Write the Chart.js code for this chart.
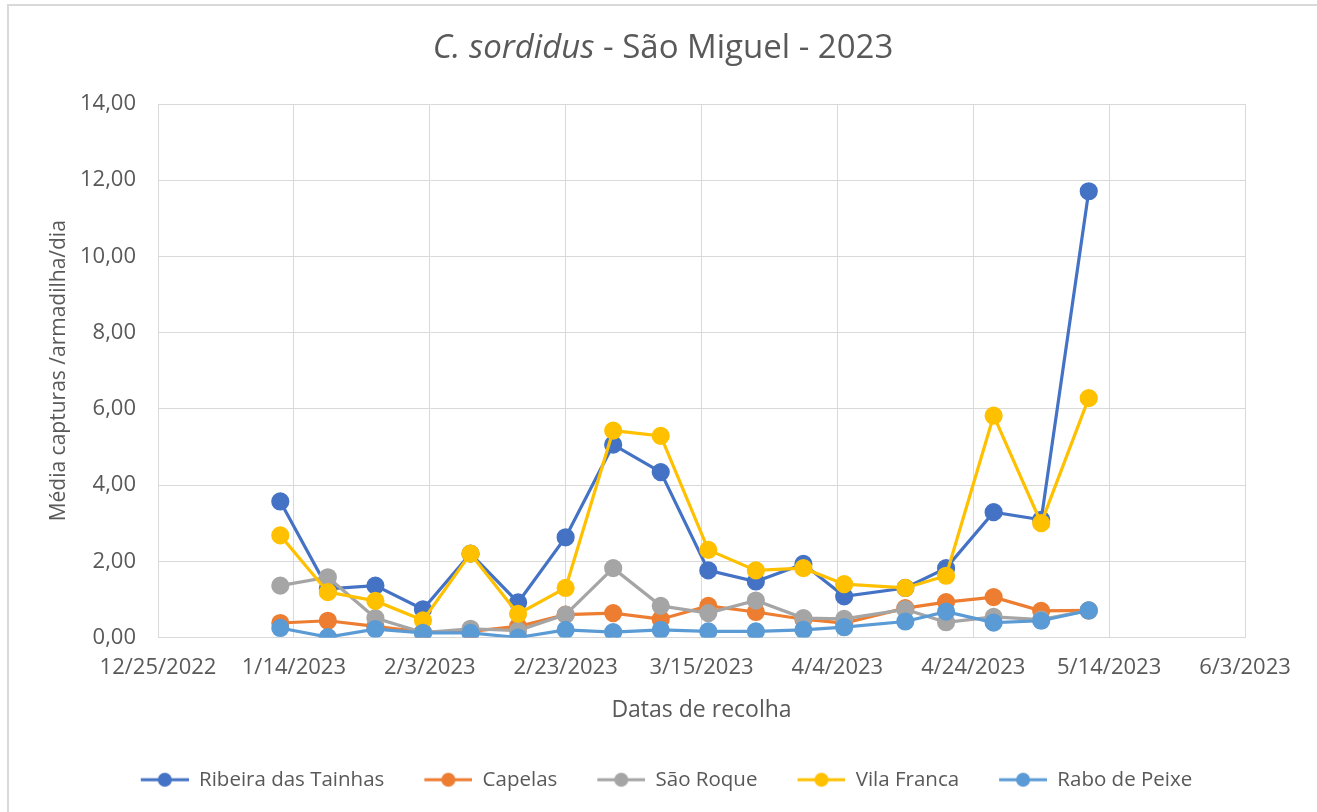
<!DOCTYPE html>
<html>
<head>
<meta charset="utf-8">
<script src="https://cdn.jsdelivr.net/npm/chart.js@4/dist/chart.umd.min.js"></script>
<style>
  html, body { margin: 0; padding: 0; background: #fff; }
  #frame { position: absolute; left: 7px; top: 4px; width: 1330px; height: 830px;
           border-left: 2px solid #d9d9d9; border-top: 2px solid #d9d9d9; }
  #wrap { position: absolute; left: 0; top: 0; width: 1317px; height: 812px; }
</style>
</head>
<body>
<div id="frame"></div>
<div id="wrap"><canvas id="myChart" width="1317" height="812"></canvas></div>
<script>
// collection dates (M/D/YYYY)
var dates = ["1/12/2023", "1/19/2023", "1/26/2023", "2/2/2023", "2/9/2023", "2/16/2023",
             "2/23/2023", "3/2/2023", "3/9/2023", "3/16/2023", "3/23/2023", "3/30/2023",
             "4/5/2023", "4/14/2023", "4/20/2023", "4/27/2023", "5/4/2023", "5/11/2023"];

var ribeiraTainhas = [3.57, 1.28, 1.36, 0.74, 2.20, 0.92, 2.63, 5.06, 4.34, 1.76, 1.47, 1.93,
                      1.08, 1.30, 1.82, 3.29, 3.09, 11.71];
var capelas        = [0.38, 0.44, 0.29, 0.14, 0.16, 0.29, 0.60, 0.64, 0.48, 0.83, 0.67, 0.48,
                      0.38, 0.77, 0.93, 1.06, 0.70, 0.71];
var saoRoque       = [1.36, 1.58, 0.51, 0.13, 0.23, 0.18, 0.60, 1.82, 0.83, 0.64, 0.97, 0.51,
                      0.49, 0.74, 0.40, 0.54, 0.47, 0.71];
var vilaFranca     = [2.68, 1.19, 0.96, 0.45, 2.20, 0.62, 1.30, 5.43, 5.29, 2.30, 1.76, 1.82,
                      1.40, 1.30, 1.62, 5.82, 3.00, 6.28];
var raboPeixe      = [0.25, 0.01, 0.22, 0.12, 0.12, 0.00, 0.20, 0.14, 0.20, 0.16, 0.16, 0.20,
                      0.27, 0.42, 0.68, 0.39, 0.44, 0.71];

var seriesNames = ["Ribeira das Tainhas", "Capelas", "São Roque", "Vila Franca", "Rabo de Peixe"];
var seriesColors = ["#4472C4", "#ED7D31", "#A5A5A5", "#FFC000", "#5B9BD5"];

var xMinDate = "12/25/2022";
var xMaxDate = "6/3/2023";
var xStep = 20;
var yMin = 0, yMax = 14, yStep = 2;

function toDay(s) {
    var p = s.split("/");
    return Date.UTC(+p[2], p[0] - 1, +p[1]) / 86400000;
}

function fmtDate(v) {
    var d = new Date(Math.round(v) * 86400000);
    return (d.getUTCMonth() + 1) + "/" + d.getUTCDate() + "/" + d.getUTCFullYear();
}

function makePoints(values) {
    return values.map(function (v, i) {
        return { x: toDay(dates[i]), y: v };
    });
}

// legend marker: line with a dot, left side kept empty as spacing
function legendMarker(color) {
    var c = document.createElement("canvas");
    c.width = 78;
    c.height = 18;
    var g = c.getContext("2d");
    g.strokeStyle = color;
    g.lineWidth = 3;
    g.beginPath();
    g.moveTo(30, 9);
    g.lineTo(78, 9);
    g.stroke();
    g.fillStyle = color;
    g.beginPath();
    g.arc(54, 9, 7, 0, Math.PI * 2);
    g.fill();
    return c;
}

var allValues = [ribeiraTainhas, capelas, saoRoque, vilaFranca, raboPeixe];
var datasets = [];
for (var i = 0; i < allValues.length; i++) {
    datasets.push({
        label: seriesNames[i],
        data: makePoints(allValues[i]),
        borderColor: seriesColors[i],
        backgroundColor: seriesColors[i],
        pointBackgroundColor: seriesColors[i],
        pointBorderColor: seriesColors[i],
        borderWidth: 3.2,
        pointRadius: 7.5,
        pointHoverRadius: 7.5,
        showLine: true,
        order: allValues.length - i
    });
}

var textColor = "#595959";
var fontFamily = "'Open Sans', sans-serif";

var titlePlugin = {
    id: "mixedTitle",
    afterLayout: function (chart) {
        // legend sits centred on the whole chart, not only left of the right padding
        chart.legend.left += 29;
        chart.legend.right += 29;
    },
    afterDraw: function (chart) {
        var ctx = chart.ctx;
        var size = 33;
        var partA = "C. sordidus";
        var partB = " - São Miguel - 2023";
        ctx.save();
        ctx.fillStyle = textColor;
        ctx.textBaseline = "middle";
        ctx.font = "italic " + size + "px " + fontFamily;
        var wA = ctx.measureText(partA).width;
        ctx.font = size + "px " + fontFamily;
        var wB = ctx.measureText(partB).width;
        var x0 = 663 - (wA + wB) / 2;
        ctx.font = "italic " + size + "px " + fontFamily;
        ctx.fillText(partA, x0, 49);
        ctx.font = size + "px " + fontFamily;
        ctx.fillText(partB, x0 + wA, 49);
        ctx.restore();
    }
};

var ctx = document.getElementById("myChart").getContext("2d");
var chart = new Chart(ctx, {
    type: "scatter",
    data: { datasets: datasets },
    plugins: [titlePlugin],
    options: {
        responsive: false,
        animation: false,
        events: [],
        layout: { padding: { top: 104, right: 72, bottom: 12, left: 0 } },
        plugins: {
            tooltip: { enabled: false },
            title: { display: false },
            legend: {
                position: "bottom",
                labels: {
                    usePointStyle: true,
                    pointStyleWidth: 78,
                    padding: 10,
                    color: textColor,
                    font: { family: fontFamily, size: 20.5 },
                    generateLabels: function (chart) {
                        var items = Chart.defaults.plugins.legend.labels.generateLabels(chart);
                        items.forEach(function (it) {
                            it.pointStyle = legendMarker(seriesColors[it.datasetIndex]);
                        });
                        return items;
                    },
                    sort: function (a, b) { return a.datasetIndex - b.datasetIndex; }
                }
            }
        },
        scales: {
            x: {
                type: "linear",
                min: toDay(xMinDate),
                max: toDay(xMaxDate),
                afterFit: function (scale) { scale.height = 122; },
                grid: { color: "#d9d9d9", lineWidth: 1, drawTicks: false },
                border: { color: "#d9d9d9", width: 1 },
                ticks: {
                    stepSize: xStep,
                    padding: 17,
                    maxRotation: 0,
                    color: textColor,
                    font: { family: fontFamily, size: 22 },
                    callback: function (v) { return fmtDate(v); }
                },
                title: {
                    display: true,
                    text: "Datas de recolha",
                    color: textColor,
                    font: { family: fontFamily, size: 23 },
                    padding: { top: 4, bottom: 35 }
                }
            },
            y: {
                min: yMin,
                max: yMax,
                afterFit: function (scale) { scale.width = 158; },
                grid: { color: "#d9d9d9", lineWidth: 1, drawTicks: false },
                border: { color: "#d9d9d9", width: 1 },
                ticks: {
                    stepSize: yStep,
                    padding: 22,
                    color: textColor,
                    font: { family: fontFamily, size: 22 },
                    callback: function (v) { return v.toFixed(2).replace(".", ","); }
                },
                title: {
                    display: true,
                    text: "Média capturas /armadilha/dia",
                    color: textColor,
                    font: { family: fontFamily, size: 21 },
                    padding: { top: 46, bottom: 4 }
                }
            }
        }
    }
});
</script>
</body>
</html>
